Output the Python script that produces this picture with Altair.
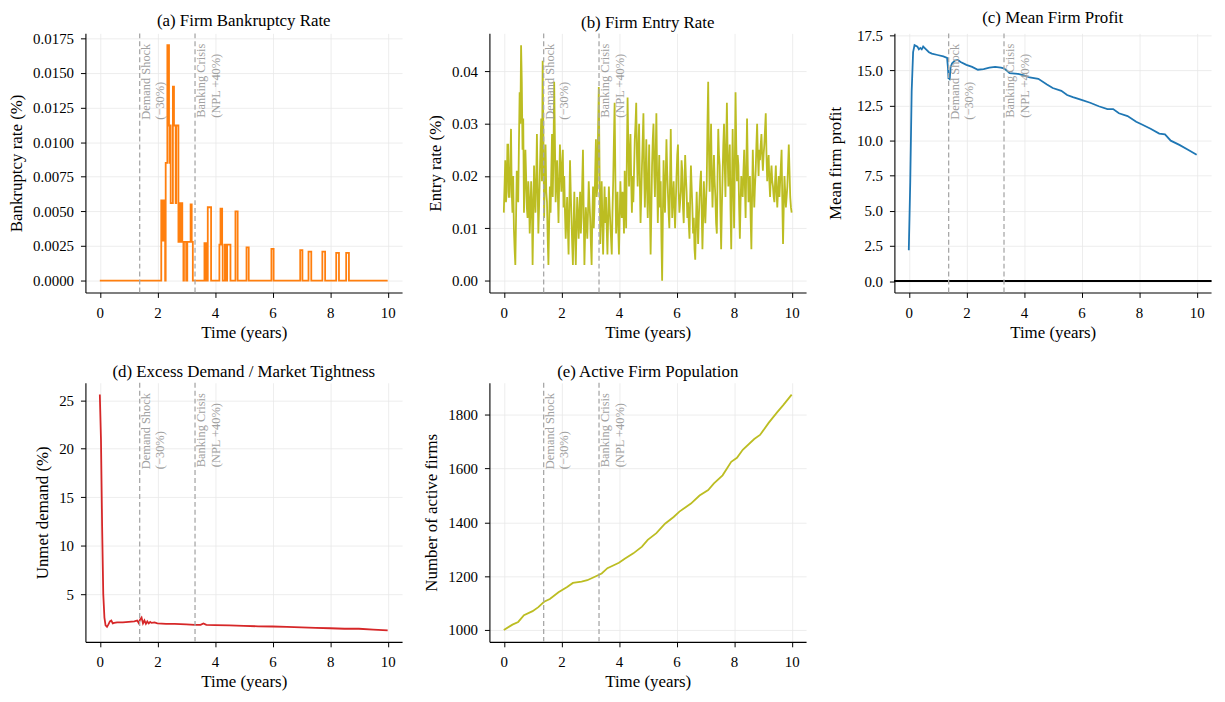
import altair as alt
import pandas as pd

FONT = "Liberation Serif"

# ---------------- data ----------------
# (a) bankruptcy rate: change points (week, rate) - weekly model, 52 weeks/year
bankrupt_week = [0, 111, 114, 115, 118, 119, 122, 125, 126, 127, 128, 132, 134, 137, 138,
                 142, 143, 146, 147, 149, 151, 152, 156, 158, 164, 166, 168, 189, 192, 195,
                 201, 216, 218, 221, 222, 226, 229, 230, 236, 245, 249, 265, 269, 310, 314,
                 362, 366, 377, 382, 402, 407, 427, 432, 445, 450, 520]
bankrupt_rate = [0, 0.0058, 0.0029, 0.0058, 0, 0.0085, 0.017, 0.0112, 0.0085, 0.0112, 0.0056,
                 0.014, 0.0112, 0.0056, 0.0112, 0.0028, 0.0056, 0.0028, 0.0056, 0.0028, 0,
                 0.0028, 0, 0.0028, 0.0055, 0.0028, 0, 0.0027, 0, 0.0053, 0, 0.0026, 0.0052,
                 0.0026, 0, 0.0026, 0, 0.0026, 0, 0.005, 0, 0.0024, 0, 0.0023, 0, 0.0022, 0,
                 0.0021, 0, 0.0021, 0, 0.002, 0, 0.002, 0, 0]

# (b) entry rate, sampled every 0.025 years (0 .. 10)
entry_rate = [
    0.013, 0.018, 0.023, 0.015, 0.017, 0.026, 0.026, 0.016, 0.016, 0.022, 0.029, 0.017, 0.013, 0.020, 0.010, 0.006, 0.003, 0.012, 0.021, 0.018,
    0.015, 0.026, 0.036, 0.030, 0.045, 0.038, 0.025, 0.031, 0.013, 0.018, 0.025, 0.020, 0.014, 0.012, 0.019, 0.016, 0.009, 0.013, 0.019, 0.015,
    0.003, 0.012, 0.022, 0.017, 0.013, 0.019, 0.028, 0.018, 0.009, 0.014, 0.020, 0.026, 0.031, 0.019, 0.042, 0.028, 0.012, 0.020, 0.026, 0.017,
    0.015, 0.008, 0.003, 0.011, 0.018, 0.013, 0.021, 0.028, 0.016, 0.024, 0.038, 0.027, 0.015, 0.019, 0.023, 0.017, 0.011, 0.019, 0.026, 0.021,
    0.017, 0.022, 0.025, 0.014, 0.020, 0.013, 0.008, 0.012, 0.016, 0.010, 0.005, 0.014, 0.023, 0.017, 0.012, 0.007, 0.003, 0.011, 0.017, 0.009,
    0.003, 0.010, 0.016, 0.012, 0.008, 0.013, 0.017, 0.009, 0.012, 0.019, 0.025, 0.013, 0.003, 0.009, 0.014, 0.011, 0.008, 0.013, 0.019, 0.015,
    0.012, 0.007, 0.003, 0.012, 0.018, 0.010, 0.014, 0.021, 0.027, 0.016, 0.018, 0.029, 0.037, 0.022, 0.007, 0.013, 0.019, 0.011, 0.005, 0.012,
    0.018, 0.011, 0.016, 0.010, 0.005, 0.012, 0.018, 0.014, 0.011, 0.008, 0.005, 0.013, 0.019, 0.027, 0.034, 0.020, 0.009, 0.013, 0.017, 0.010,
    0.005, 0.012, 0.019, 0.014, 0.012, 0.017, 0.015, 0.009, 0.021, 0.016, 0.010, 0.024, 0.035, 0.026, 0.018, 0.024, 0.028, 0.019, 0.013, 0.020,
    0.015, 0.021, 0.027, 0.030, 0.034, 0.024, 0.018, 0.025, 0.030, 0.019, 0.011, 0.016, 0.022, 0.027, 0.032, 0.021, 0.014, 0.020, 0.027, 0.018,
    0.012, 0.019, 0.026, 0.014, 0.005, 0.013, 0.022, 0.027, 0.030, 0.021, 0.016, 0.024, 0.032, 0.020, 0.011, 0.018, 0.024, 0.014, 0.019, 0.008,
    0.000, 0.012, 0.023, 0.017, 0.013, 0.020, 0.027, 0.021, 0.017, 0.013, 0.010, 0.019, 0.029, 0.018, 0.012, 0.016, 0.019, 0.014, 0.010, 0.015,
    0.020, 0.024, 0.026, 0.017, 0.013, 0.015, 0.017, 0.023, 0.021, 0.014, 0.011, 0.018, 0.024, 0.020, 0.017, 0.012, 0.015, 0.011, 0.008, 0.016,
    0.022, 0.018, 0.014, 0.009, 0.012, 0.006, 0.004, 0.011, 0.017, 0.012, 0.007, 0.012, 0.016, 0.019, 0.021, 0.013, 0.006, 0.012, 0.019, 0.014,
    0.011, 0.015, 0.019, 0.030, 0.038, 0.025, 0.017, 0.023, 0.030, 0.020, 0.014, 0.019, 0.024, 0.019, 0.016, 0.011, 0.009, 0.020, 0.029, 0.024,
    0.022, 0.013, 0.006, 0.014, 0.020, 0.026, 0.030, 0.022, 0.016, 0.026, 0.034, 0.024, 0.018, 0.022, 0.026, 0.014, 0.006, 0.018, 0.029, 0.019,
    0.010, 0.022, 0.036, 0.026, 0.019, 0.024, 0.022, 0.014, 0.008, 0.015, 0.020, 0.017, 0.016, 0.021, 0.025, 0.018, 0.012, 0.022, 0.031, 0.022,
    0.015, 0.018, 0.020, 0.012, 0.006, 0.016, 0.025, 0.019, 0.014, 0.018, 0.021, 0.026, 0.030, 0.024, 0.020, 0.025, 0.023, 0.026, 0.028, 0.024,
    0.021, 0.024, 0.026, 0.029, 0.032, 0.024, 0.019, 0.022, 0.024, 0.019, 0.016, 0.020, 0.022, 0.019, 0.018, 0.016, 0.015, 0.019, 0.022, 0.017,
    0.014, 0.017, 0.020, 0.016, 0.019, 0.022, 0.025, 0.015, 0.007, 0.014, 0.020, 0.017, 0.014, 0.016, 0.018, 0.022, 0.026, 0.021, 0.016, 0.014,
    0.013,
]

# (c) mean firm profit
profit_t = [0, 0.05, 0.1, 0.15, 0.2, 0.3, 0.35, 0.4, 0.45, 0.5, 0.6, 0.7, 0.8, 1.0, 1.2, 1.33,
            1.36, 1.38, 1.4, 1.42, 1.45, 1.5, 1.6, 1.7, 1.8, 2.0, 2.2, 2.4, 2.6, 2.8, 3.0, 3.2,
            3.3, 3.4, 3.5, 3.8, 4.0, 4.2, 4.5, 4.8, 5.0, 5.3, 5.5, 5.7, 6.0, 6.3, 6.6, 6.9, 7.1,
            7.3, 7.6, 7.9, 8.1, 8.4, 8.7, 8.9, 9.1, 9.4, 9.7, 10.0]
profit_v = [2.2, 7.0, 13.5, 16.3, 16.8, 16.7, 16.5, 16.6, 16.5, 16.7, 16.5, 16.3, 16.2, 16.1,
            16.0, 15.9, 15.2, 14.4, 14.7, 14.3, 15.2, 15.5, 15.7, 15.75, 15.6, 15.4, 15.25,
            15.05, 15.1, 15.2, 15.25, 15.2, 15.15, 15.0, 14.8, 14.75, 14.65, 14.5, 14.4, 14.0,
            13.75, 13.55, 13.25, 13.1, 12.9, 12.7, 12.45, 12.25, 12.25, 11.95, 11.75, 11.35,
            11.15, 10.85, 10.5, 10.45, 10.0, 9.7, 9.35, 9.0]

# (d) unmet demand
unmet_t = [0, 0.04, 0.08, 0.12, 0.16, 0.2, 0.25, 0.3, 0.35, 0.4, 0.45, 0.5, 0.6, 0.8, 1.0, 1.2,
           1.3, 1.35, 1.4, 1.45, 1.5, 1.55, 1.6, 1.65, 1.7, 1.75, 1.8, 1.9, 2.0, 2.3, 2.6, 3.0,
           3.3, 3.5, 3.6, 3.7, 4.0, 4.5, 5.0, 5.5, 6.0, 6.5, 7.0, 7.5, 8.0, 8.5, 9.0, 9.5, 10.0]
unmet_v = [25.6, 21.0, 12.0, 5.0, 2.6, 1.8, 1.65, 1.9, 2.2, 2.3, 2.0, 2.05, 2.1, 2.1, 2.15, 2.2,
           2.3, 2.05, 2.4, 2.6, 2.0, 2.3, 1.95, 2.2, 2.0, 2.15, 2.05, 2.1, 2.0, 1.95, 1.95, 1.9,
           1.85, 1.85, 2.0, 1.85, 1.82, 1.8, 1.75, 1.7, 1.68, 1.65, 1.6, 1.55, 1.5, 1.45, 1.45,
           1.35, 1.28]

# (e) active firms
firms_t = [0, 0.3, 0.5, 0.7, 1.0, 1.2, 1.4, 1.6, 1.9, 2.2, 2.4, 2.7, 2.9, 3.2, 3.4, 3.6, 3.8,
           4.0, 4.2, 4.5, 4.8, 5.0, 5.3, 5.6, 5.9, 6.1, 6.5, 6.8, 7.1, 7.3, 7.6, 7.9, 8.1, 8.3,
           8.7, 8.9, 9.2, 9.5, 9.7, 10.0]
firms_v = [1000, 1020, 1030, 1055, 1070, 1085, 1105, 1115, 1140, 1160, 1175, 1180, 1185, 1200,
           1210, 1230, 1240, 1250, 1265, 1285, 1310, 1335, 1360, 1395, 1420, 1440, 1470, 1500,
           1520, 1545, 1575, 1625, 1640, 1670, 1710, 1725, 1770, 1810, 1835, 1875]

# shocks
shock_t = [72 / 52, 172 / 52]
shock_label = ["Demand Shock\n(\u221230%)", "Banking Crisis\n(NPL +40%)"]
shock_label_y = [89, 87]

x_ticks = [0, 2, 4, 6, 8, 10]

# ---------------- chart ----------------
OLIVE = "#bcbd22"
W, H = 319, 261

shock_df = pd.DataFrame({"t": shock_t, "label": shock_label, "ly": shock_label_y})


def xenc():
    return alt.X("t:Q", title="Time (years)",
                 scale=alt.Scale(domain=[-0.5, 10.5], nice=False, zero=False),
                 axis=alt.Axis(values=x_ticks, format="d"))


def panel(df, color, ytitle, ydomain, yticks, yfmt, title, interp="linear",
          zero_line=False, min_extent=None):
    axis_kw = dict(values=yticks, format=yfmt, labelOverlap=False)
    if min_extent is not None:
        axis_kw["minExtent"] = min_extent
    yscale = alt.Scale(domain=ydomain, nice=False, zero=False)
    line = alt.Chart(df).mark_line(color=color, strokeWidth=1.8, interpolate=interp).encode(
        x=xenc(),
        y=alt.Y("v:Q", title=ytitle, scale=yscale, axis=alt.Axis(**axis_kw)),
    )
    rules = alt.Chart(shock_df).mark_rule(color="#a8a8a8", strokeWidth=1.3, strokeDash=[5, 3]).encode(
        x=xenc())
    texts = alt.Chart(shock_df).mark_text(
        angle=270, align="left", baseline="top", dx=2, fontSize=12.5, font=FONT,
        color="#a0a0a0", lineBreak="\n", lineHeight=15,
    ).encode(x=xenc(), y=alt.Y("ly:Q", scale=None), text="label:N")
    layers = [line]
    if zero_line:
        layers.append(alt.Chart(df).mark_rule(color="black", strokeWidth=0.8).encode(
            y=alt.Y(datum=0, title=ytitle, scale=yscale, axis=alt.Axis(**axis_kw))))
    layers += [rules, texts]
    return alt.layer(*layers).properties(width=W, height=H, title=title)


bank_df = pd.DataFrame({"t": [w / 52 for w in bankrupt_week], "v": bankrupt_rate})
n_entry = len(entry_rate)
entry_df = pd.DataFrame({"t": [10 * i / (n_entry - 1) for i in range(n_entry)], "v": entry_rate})
profit_df = pd.DataFrame({"t": profit_t, "v": profit_v})
unmet_df = pd.DataFrame({"t": unmet_t, "v": unmet_v})
firms_df = pd.DataFrame({"t": firms_t, "v": firms_v})

pa = panel(bank_df, "#ff7f0e", "Bankruptcy rate (%)", [-0.00085, 0.01785],
           [0, 0.0025, 0.005, 0.0075, 0.01, 0.0125, 0.015, 0.0175], ".4f",
           "(a) Firm Bankruptcy Rate", interp="step-after")
pb = panel(entry_df, OLIVE, "Entry rate (%)", [-0.00225, 0.04725],
           [0, 0.01, 0.02, 0.03, 0.04], ".2f", "(b) Firm Entry Rate")
pc = panel(profit_df, "#1f77b4", "Mean firm profit", [-0.81, 17.64],
           [0, 2.5, 5, 7.5, 10, 12.5, 15, 17.5], ".1f", "(c) Mean Firm Profit",
           zero_line=True, min_extent=43)
pd_ = panel(unmet_df, "#d62728", "Unmet demand (%)", [0.1, 26.8],
            [5, 10, 15, 20, 25], "d", "(d) Excess Demand / Market Tightness")
pe = panel(firms_df, OLIVE, "Number of active firms", [956, 1919],
           [1000, 1200, 1400, 1600, 1800], "d", "(e) Active Firm Population")

chart = alt.concat(pa, pb, pc, pd_, pe, columns=3, spacing={"row": 23, "column": 21}).properties(
    padding={"left": -1, "top": -2, "right": 5, "bottom": 5}
).configure_view(
    stroke=None
).configure_axis(
    labelFont=FONT, titleFont=FONT, labelFontSize=15, titleFontSize=17,
    titleFontWeight="normal", labelColor="black", titleColor="black",
    domainColor="black", domainWidth=1.1, tickColor="black", tickSize=5, tickWidth=1,
    gridColor="#e8e8e8", gridWidth=0.8, labelPadding=7, titlePadding=7,
).configure_axisX(
    labelPadding=8, titlePadding=4
).configure_title(
    font=FONT, fontSize=17, fontWeight="normal", color="black", offset=1, frame="group"
)

chart.save("out.html", embed_options={"renderer": "svg", "actions": False})
